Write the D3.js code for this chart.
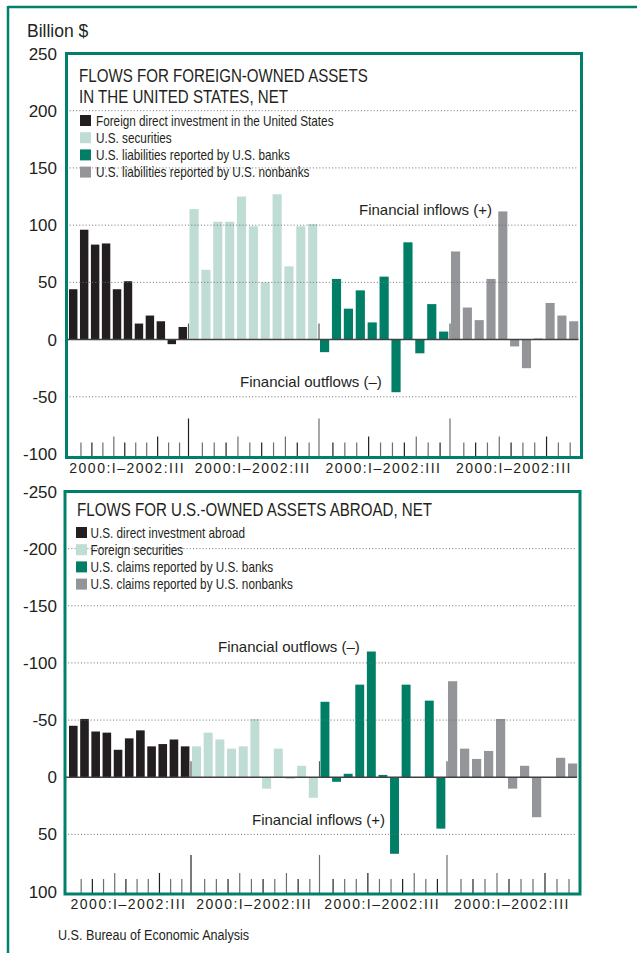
<!DOCTYPE html>
<html><head><meta charset="utf-8">
<script src="https://cdn.jsdelivr.net/npm/d3@7"></script>
<style>body{margin:0;background:#fff}svg{display:block}</style>
</head><body>
<script>
// ---------- data ----------
const quarters = ["2000:I","2000:II","2000:III","2000:IV","2001:I","2001:II","2001:III","2001:IV","2002:I","2002:II","2002:III"];
const rangeLabel = "2000:I\u20132002:III";
const seriesColors = ["#231f20","#bfdcd5","#007f66","#939598"];

const topTitle = ["FLOWS FOR FOREIGN-OWNED ASSETS","IN THE UNITED STATES, NET"];
const topLegend = ["Foreign direct investment in the United States","U.S. securities","U.S. liabilities reported by U.S. banks","U.S. liabilities reported by U.S. nonbanks"];
const topTicks = [250,200,150,100,50,0,-50,-100];
const topDirect     = [44, 96, 83, 84, 44, 51, 14, 21, 16, -4, 11];
const topSecurities = [114, 61, 103, 103, 125, 99, 50, 127, 64, 99, 101];
const topBanks      = [-11, 53, 27, 43, 15, 55, -46, 85, -12, 31, 7];
const topNonbanks   = [77, 28, 17, 53, 112, -6, -25, 1, 32, 21, 16];

const bottomTitle = ["FLOWS FOR U.S.-OWNED ASSETS ABROAD, NET"];
const bottomLegend = ["U.S. direct investment abroad","Foreign securities","U.S. claims reported by U.S. banks","U.S. claims reported by U.S. nonbanks"];
const bottomTicks = [-250,-200,-150,-100,-50,0,50,100];
const bottomDirect     = [-45, -51, -40, -39, -24, -34, -41, -27, -29, -33, -27];
const bottomSecurities = [-27, -39, -33, -25, -27, -51, 10, -25, 1.5, -10, 18];
const bottomBanks      = [-66, 4, -3, -81, -110, -2, 67, -81, 0, -67, 45];
const bottomNonbanks   = [-84, -25, -16, -23, -51, 10, -10, 35, 0, -17, -12];

const unitLabel = "Billion $";
const sourceLabel = "U.S. Bureau of Economic Analysis";

// ---------- drawing ----------
const W = 637, H = 953;
const GREEN = "#00806a", INK = "#231f20";
const SANS = "'Liberation Sans',Arial,Helvetica,sans-serif";
const COND = 0.84; // horizontal condensing for the narrow typeface

const svg = d3.select("body").append("svg").attr("width", W).attr("height", H);
svg.append("rect").attr("width", W).attr("height", H).attr("fill", "#fff");

// outer frame
svg.append("line").attr("x1", 8).attr("x2", W).attr("y1", 7).attr("y2", 7).attr("stroke", GREEN).attr("stroke-width", 2.5);
svg.append("line").attr("x1", 8).attr("x2", 8).attr("y1", 6).attr("y2", H).attr("stroke", GREEN).attr("stroke-width", 2.5);

svg.append("text").attr("x", 27).attr("y", 37).attr("font-family", SANS).attr("font-size", 17.5).attr("fill", INK).text(unitLabel);

function narrowText(sel, size) {
  return sel.attr("font-family", SANS).attr("font-size", size).attr("fill", INK);
}

function panel(cfg) {
  const g = svg.append("g");
  const y = d3.scaleLinear().domain(cfg.yDomain).range(cfg.yRange);
  const x = d3.scaleLinear().domain([0, 11, 22, 33, 44]).range(cfg.xRange);
  const series = cfg.series;
  const flat = [];
  series.forEach((vals, s) => vals.forEach((v, q) => flat.push({s, q, i: s * 11 + q, v})));

  // y tick labels
  g.selectAll(".yl").data(cfg.ticks).join("text")
    .attr("x", 57).attr("y", d => y(d)).attr("dy", "0.36em")
    .attr("text-anchor", "end").attr("font-family", SANS).attr("font-size", 17).attr("fill", INK)
    .text(d => d);

  // bars
  g.selectAll(".bar").data(flat).join("rect")
    .attr("x", d => x(d.i))
    .attr("width", d => (x(d.i + 1) - x(d.i)) * 0.77)
    .attr("y", d => Math.min(y(d.v), y(0)))
    .attr("height", d => Math.abs(y(d.v) - y(0)))
    .attr("fill", d => seriesColors[d.s]);

  // dotted gridlines
  g.selectAll(".grid").data(cfg.ticks.filter(t => t !== 0 && t !== cfg.yDomain[0] && t !== cfg.yDomain[1])).join("line")
    .attr("x1", cfg.box[0]).attr("x2", cfg.box[2] - 4)
    .attr("y1", d => y(d)).attr("y2", d => y(d))
    .attr("stroke", "#6d6e71").attr("stroke-width", 1).attr("stroke-dasharray", "1,2.2");

  // zero line
  g.append("line").attr("x1", cfg.box[0]).attr("x2", cfg.box[2] - 3)
    .attr("y1", y(0)).attr("y2", y(0)).attr("stroke", "#414042").attr("stroke-width", 1.6);

  // group stubs at zero
  g.selectAll(".stub").data([11, 22, 33]).join("line")
    .attr("x1", d => x(d) - 1).attr("x2", d => x(d) - 1)
    .attr("y1", y(0)).attr("y2", y(0) - 16)
    .attr("stroke", "#58595b").attr("stroke-width", 1.2);

  // quarter ticks along the bottom
  const bottomY = cfg.box[3] - 1;
  const tickIdx = d3.range(1, 44);
  g.selectAll(".tk").data(tickIdx).join("line")
    .attr("x1", d => d % 11 === 0 ? x(d) - 1 : x(d) + 1)
    .attr("x2", d => d % 11 === 0 ? x(d) - 1 : x(d) + 1)
    .attr("y1", bottomY)
    .attr("y2", d => bottomY - (d % 11 === 0 ? 38 : (d % 11 === 4 || d % 11 === 8) ? 20 : 14))
    .attr("stroke", (d, k) => k % 3 === 1 ? "#231f20" : "#6d6e71").attr("stroke-width", 1.2);

  // group labels
  g.selectAll(".xl").data([0, 1, 2, 3]).join("text")
    .attr("x", d => (x(d * 11) + x(d * 11 + 11)) / 2 - 2)
    .attr("y", cfg.box[3] + 15)
    .attr("text-anchor", "middle").attr("font-family", SANS).attr("font-size", 14)
    .attr("letter-spacing", 1.5).attr("fill", INK)
    .text(rangeLabel);

  // box
  g.append("rect").attr("x", cfg.box[0]).attr("y", cfg.box[1])
    .attr("width", cfg.box[2] - cfg.box[0]).attr("height", cfg.box[3] - cfg.box[1])
    .attr("fill", "none").attr("stroke", GREEN).attr("stroke-width", 3);

  // title (condensed)
  narrowText(g.selectAll(".tt").data(cfg.title).join("text")
    .attr("transform", (d, k) => `translate(${cfg.titleX},${cfg.titleY + k * 21.5}) scale(${COND},1)`), 18)
    .text(d => d);

  // legend
  const lg = g.selectAll(".lg").data(cfg.legend).join("g")
    .attr("transform", (d, k) => `translate(${cfg.legendX},${cfg.legendY + k * 17.2})`);
  lg.append("rect").attr("x", 0).attr("y", -5.5).attr("width", 11).attr("height", 11)
    .attr("fill", (d, k) => seriesColors[k]);
  narrowText(lg.append("text").attr("transform", `translate(${cfg.legendTextDX},0) scale(${COND},1)`)
    .attr("dy", "0.36em"), 14).text(d => d);

  // annotations
  g.selectAll(".an").data(cfg.notes).join("text")
    .attr("x", d => d.x).attr("y", d => y(d.v))
    .attr("font-family", SANS).attr("font-size", 15).attr("fill", INK).text(d => d.t);
}

panel({
  series: [topDirect, topSecurities, topBanks, topNonbanks],
  yDomain: [-100, 250], yRange: [454, 53.5],
  xRange: [69, 189.5, 320, 451, 581],
  box: [66.5, 53.5, 581.5, 457.5],
  ticks: topTicks,
  title: topTitle, titleX: 79, titleY: 81.5,
  legend: topLegend, legendX: 80, legendY: 120.5, legendTextDX: 16,
  notes: [{t: "Financial inflows (+)", x: 359, v: 109}, {t: "Financial outflows (\u2013)", x: 240, v: -41.5}]
});

panel({
  series: [bottomDirect, bottomSecurities, bottomBanks, bottomNonbanks],
  yDomain: [-250, 100], yRange: [491.5, 891.5],
  xRange: [69, 192, 320.5, 448, 580],
  box: [65, 491.5, 580, 894],
  ticks: bottomTicks,
  title: bottomTitle, titleX: 77, titleY: 515.5,
  legend: bottomLegend, legendX: 76, legendY: 532.5, legendTextDX: 14.5,
  notes: [{t: "Financial outflows (\u2013)", x: 218, v: -109.5}, {t: "Financial inflows (+)", x: 252, v: 42}]
});

narrowText(svg.append("text").attr("transform", `translate(58,940) scale(${COND},1)`), 15).text(sourceLabel);
</script>
</body></html>
